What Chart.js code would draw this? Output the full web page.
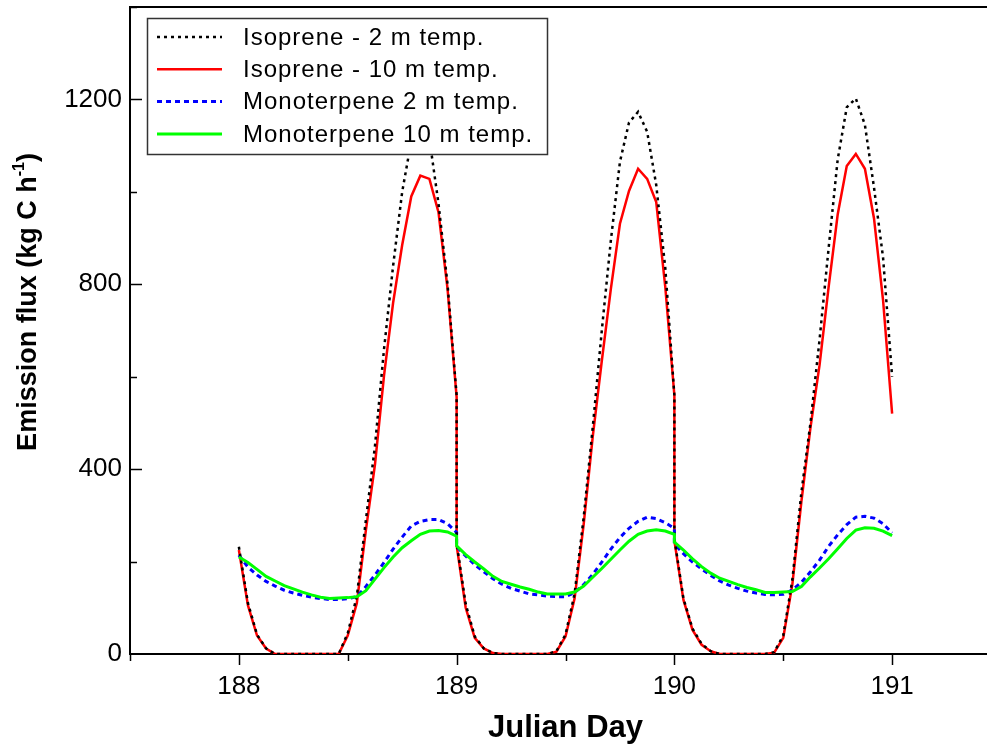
<!DOCTYPE html>
<html>
<head>
<meta charset="utf-8">
<script src="https://cdn.jsdelivr.net/npm/chart.js@4.4.1/dist/chart.umd.min.js"></script>
<style>
html, body { margin: 0; padding: 0; background: #fff; overflow: hidden; }
#wrap { position: relative; width: 1001px; height: 748px; }
</style>
</head>
<body>
<div id="wrap"><canvas id="myChart"></canvas></div>
<script>
// one row per Julian day, hourly values from 0 h to 24 h
const days = [188, 189, 190];
const hours = [0, 1, 2, 3, 4, 5, 6, 7, 8, 9, 10, 11, 12, 13, 14, 15, 16, 17, 18, 19, 20, 21, 22, 23, 24];

const isoprene2m = [
    [232, 110, 42, 12, 0, 0, 0, 0, 0, 0, 0, 0, 45, 125, 290, 450, 660, 840, 1000, 1110, 1150, 1115, 975, 800, 560],
    [240, 108, 38, 12, 2, 0, 0, 0, 0, 0, 0, 6, 42, 130, 295, 490, 700, 895, 1065, 1150, 1173, 1130, 1015, 835, 560],
    [250, 120, 55, 22, 6, 0, 0, 0, 0, 0, 0, 4, 40, 160, 350, 500, 680, 878, 1070, 1183, 1202, 1145, 1010, 858, 600]
];
const isoprene10m = [
    [225, 105, 40, 12, 0, 0, 0, 0, 0, 0, 0, 0, 40, 110, 268, 410, 603, 760, 885, 990, 1035, 1028, 956, 790, 556],
    [235, 100, 35, 12, 2, 0, 0, 0, 0, 0, 0, 5, 38, 120, 280, 470, 634, 790, 931, 1002, 1050, 1028, 978, 794, 560],
    [245, 117, 52, 20, 6, 0, 0, 0, 0, 0, 0, 3, 35, 150, 330, 490, 625, 794, 951, 1056, 1082, 1050, 943, 766, 520]
];
const monoterpene2m = [
    [214, 188, 171, 157, 147, 138, 132, 127, 123, 120, 118, 118, 120, 124, 146, 171, 198, 227, 253, 277, 287, 291, 291, 282, 263],
    [232, 212, 193, 178, 163, 151, 142, 136, 130, 128, 125, 124, 124, 133, 150, 172, 199, 227, 252, 272, 287, 296, 293, 284, 272],
    [238, 217, 199, 184, 170, 158, 149, 142, 136, 132, 129, 128, 129, 139, 155, 178, 203, 233, 258, 280, 296, 298, 294, 282, 262]
];
const monoterpene10m = [
    [210, 198, 183, 168, 158, 148, 141, 134, 128, 123, 120, 121, 122, 124, 137, 162, 187, 210, 230, 245, 259, 266, 267, 264, 255],
    [234, 215, 199, 184, 168, 157, 151, 145, 140, 134, 130, 130, 130, 134, 147, 166, 185, 205, 225, 244, 259, 266, 269, 266, 259],
    [242, 225, 206, 189, 175, 164, 157, 150, 144, 139, 133, 133, 134, 135, 146, 167, 186, 206, 228, 250, 268, 273, 272, 266, 256]
];

const seriesLabels = ['Isoprene - 2 m temp.', 'Isoprene - 10 m temp.', 'Monoterpene 2 m temp.', 'Monoterpene 10 m temp.'];
const yLabelEvery = 400;

function toPoints(rows) {
    const pts = [];
    rows.forEach((row, d) => {
        row.forEach((v, h) => pts.push({ x: days[d] + hours[h] / 24, y: v }));
    });
    return pts;
}

const FONT = '"Liberation Sans", Arial, sans-serif';

// fixed axis box sizes, no extra room for the (blank) end labels
function fixBox(s, w, h) {
    if (w) s.width = w;
    if (h) s.height = h;
    s.paddingTop = 0;
    s.paddingBottom = 0;
    s.paddingLeft = 0;
    s.paddingRight = 0;
}

const decor = {
    id: 'decor',
    afterDatasetsDraw(chart) {
        const ctx = chart.ctx;
        const a = chart.chartArea;
        const xs = chart.scales.x;
        const ys = chart.scales.y;
        ctx.save();

        // frame top
        ctx.strokeStyle = '#000';
        ctx.lineWidth = 2;
        ctx.beginPath();
        ctx.moveTo(a.left, a.top);
        ctx.lineTo(a.right, a.top);
        ctx.stroke();

        // tick marks: y inward, x outward
        ctx.lineWidth = 1.5;
        ys.ticks.forEach(t => {
            if (t.value === 0) return;
            const py = Math.round(ys.getPixelForValue(t.value)) + 0.5;
            const len = t.value % yLabelEvery === 0 ? 12 : 7;
            ctx.beginPath();
            ctx.moveTo(a.left, py);
            ctx.lineTo(a.left + len, py);
            ctx.stroke();
        });
        xs.ticks.forEach(t => {
            const px = Math.round(xs.getPixelForValue(t.value)) + 0.5;
            const len = Number.isInteger(t.value) ? 11 : 7;
            ctx.beginPath();
            ctx.moveTo(px, a.bottom);
            ctx.lineTo(px, a.bottom + len);
            ctx.stroke();
        });

        // axis titles
        ctx.fillStyle = '#000';
        ctx.textBaseline = 'middle';
        ctx.textAlign = 'center';
        ctx.font = 'bold 31px ' + FONT;
        ctx.fillText('Julian Day', (a.left + a.right) / 2, 728);

        ctx.save();
        ctx.translate(29, 302);
        ctx.rotate(-Math.PI / 2);
        ctx.textAlign = 'left';
        const big = 'bold 27px ' + FONT;
        const small = 'bold 16px ' + FONT;
        const p1 = 'Emission flux (kg C h';
        const p2 = '-1';
        const p3 = ')';
        ctx.font = big;
        const w1 = ctx.measureText(p1).width;
        const w3 = ctx.measureText(p3).width;
        ctx.font = small;
        const w2 = ctx.measureText(p2).width;
        let sx = -(w1 + w2 + w3) / 2;
        ctx.font = big;
        ctx.fillText(p1, sx, 0);
        sx += w1;
        ctx.font = small;
        ctx.fillText(p2, sx, -9);
        sx += w2;
        ctx.font = big;
        ctx.fillText(p3, sx, 0);
        ctx.restore();

        // legend box
        ctx.fillStyle = '#fff';
        ctx.fillRect(147, 18, 401, 137);
        ctx.strokeStyle = '#333';
        ctx.lineWidth = 1.5;
        ctx.strokeRect(147.5, 18.5, 400, 136);
        ctx.font = '24px ' + FONT;
        ctx.letterSpacing = '1px';
        ctx.textAlign = 'left';
        chart.data.datasets.forEach((ds, i) => {
            const ry = 37 + i * 32.3;
            ctx.save();
            ctx.strokeStyle = ds.borderColor;
            ctx.lineWidth = ds.borderWidth;
            ctx.setLineDash(ds.borderDash || []);
            ctx.beginPath();
            ctx.moveTo(157, ry);
            ctx.lineTo(222, ry);
            ctx.stroke();
            ctx.restore();
            ctx.fillStyle = '#000';
            ctx.fillText(ds.label, 243, ry + 1);
        });
        ctx.restore();
    }
};

const ctx = document.getElementById('myChart').getContext('2d');
const chart = new Chart(ctx, {
    type: 'line',
    data: {
        datasets: [{
            label: seriesLabels[0],
            data: toPoints(isoprene2m),
            borderColor: '#000000',
            borderWidth: 2.5,
            borderDash: [3, 4],
            order: 2
        }, {
            label: seriesLabels[1],
            data: toPoints(isoprene10m),
            borderColor: '#ff0000',
            borderWidth: 2.5,
            order: 4
        }, {
            label: seriesLabels[2],
            data: toPoints(monoterpene2m),
            borderColor: '#0000ff',
            borderWidth: 3,
            borderDash: [5, 4],
            order: 3
        }, {
            label: seriesLabels[3],
            data: toPoints(monoterpene10m),
            borderColor: '#00ff00',
            borderWidth: 3,
            order: 1
        }]
    },
    options: {
        responsive: true,
        maintainAspectRatio: false,
        animation: false,
        events: [],
        layout: { padding: { top: 7, left: 0, right: 0, bottom: 0 } },
        elements: {
            point: { radius: 0 },
            line: { tension: 0, fill: false }
        },
        plugins: {
            legend: { display: false },
            tooltip: { enabled: false }
        },
        scales: {
            x: {
                type: 'linear',
                min: 187.5,
                max: 191.5,
                afterFit: s => fixBox(s, 0, 94),
                grid: { display: false, drawTicks: false },
                border: { display: true, color: '#000', width: 2 },
                ticks: {
                    stepSize: 0.5,
                    padding: 17,
                    color: '#000',
                    font: { family: FONT, size: 26 },
                    callback: v => Number.isInteger(v) ? String(v) : ''
                }
            },
            y: {
                min: 0,
                max: 1400,
                afterFit: s => fixBox(s, 130, 0),
                grid: { display: false, drawTicks: false },
                border: { display: true, color: '#000', width: 2 },
                ticks: {
                    stepSize: 200,
                    padding: 8,
                    color: '#000',
                    font: { family: FONT, size: 26 },
                    callback: v => v % yLabelEvery === 0 ? String(v) : ''
                }
            }
        }
    },
    plugins: [decor]
});
</script>
</body>
</html>
